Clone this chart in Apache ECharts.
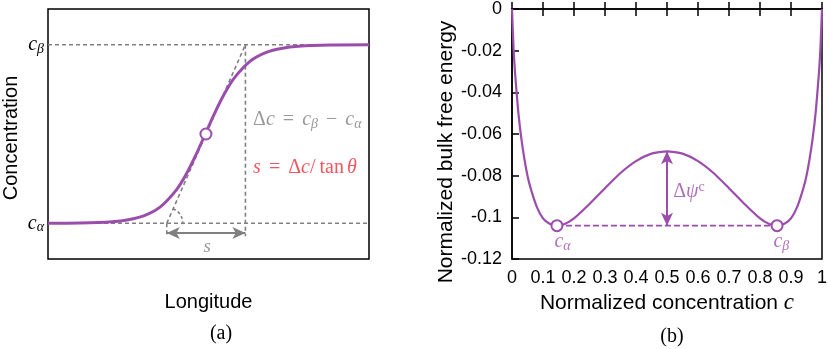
<!DOCTYPE html>
<html>
<head>
<meta charset="utf-8">
<script src="https://cdn.jsdelivr.net/npm/echarts@6/dist/echarts.min.js"></script>
<style>
html, body { margin: 0; padding: 0; background: #fff; }
#chart { width: 830px; height: 349px; }
</style>
</head>
<body>
<div id="chart"></div>
<script>
// (a) interface profile: longitude in arbitrary units, concentration scaled so c_alpha = 0, c_beta = 1
const longitudeA = [0, 1, 2, 2.5, 3, 3.5, 4, 4.3, 4.6, 4.9, 5.2, 5.5, 5.8, 6.3, 6.8, 7.3, 7.8, 8.8, 10]
const concA = [0.0003, 0.0017, 0.009, 0.02, 0.043, 0.092, 0.187, 0.273, 0.38, 0.5, 0.62, 0.727, 0.813, 0.908, 0.957, 0.98, 0.991, 0.998, 0.9995]
const tangentA = [[3.70, 0], [6.15, 1]]
const midA = [[4.92, 0.5]]
const arrowYA = -0.054
const barBottomA = -0.073
const yTickLabelsA = { '0': 'α', '1': 'β' }

// (b) bulk free energy vs normalized concentration
const concB = [0, 0.005, 0.01, 0.02, 0.03, 0.04, 0.05, 0.06, 0.08, 0.1, 0.12, 0.145, 0.17, 0.2, 0.25, 0.3, 0.35, 0.4, 0.45, 0.5,
  0.55, 0.6, 0.65, 0.7, 0.75, 0.8, 0.83, 0.855, 0.88, 0.9, 0.92, 0.94, 0.95, 0.96, 0.97, 0.98, 0.99, 0.995, 1]
const energyB = [0, -0.019, -0.031, -0.049, -0.062, -0.072, -0.080, -0.086, -0.095, -0.1005, -0.103, -0.104, -0.1032, -0.1005, -0.0936, -0.086, -0.0787, -0.073, -0.0694, -0.0683,
  -0.0694, -0.073, -0.0787, -0.086, -0.0936, -0.1005, -0.1032, -0.104, -0.103, -0.1005, -0.095, -0.086, -0.080, -0.072, -0.062, -0.049, -0.031, -0.019, 0]
const wellsB = [[0.145, -0.104], [0.855, -0.104]]
const barrierB = [[0.5, -0.0683], [0.5, -0.104]]

const purple = '#9b4dab'
const gray = '#808080'
const red = '#ee2c36'
const sans = 'Liberation Sans'
const serif = 'Liberation Serif'

const zip = (xs, ys) => xs.map((x, i) => [x, ys[i]])

const dashed = { color: gray, width: 1.6, type: [4, 3] }
function guide (pts) {
  return { type: 'line', xAxisIndex: 0, yAxisIndex: 0, data: pts, symbol: 'none', silent: true, lineStyle: dashed, z: 2 }
}
function textAt (grid, pt, text, rich, pos) {
  return {
    type: 'scatter', xAxisIndex: grid ? 1 : 0, yAxisIndex: grid ? 1 : 0,
    data: [pt], symbolSize: 0, silent: true, z: 6,
    label: { show: true, position: pos || 'inside', distance: 0, formatter: text, rich: rich }
  }
}
const mathRich = (color, size) => ({
  i: { fontFamily: serif, fontStyle: 'italic', fontSize: size, color: color, lineHeight: 24 },
  r: { fontFamily: serif, fontSize: size, color: color, lineHeight: 24 },
  o: { fontFamily: serif, fontSize: size, color: color, lineHeight: 24, padding: [0, 8, 0, 8] },
  t: { fontFamily: serif, fontSize: size, color: color, lineHeight: 24, padding: [0, 3, 0, 4] },
  s: { fontFamily: serif, fontStyle: 'italic', fontSize: size * 0.7, color: color, lineHeight: 24, padding: [9, 0, 0, 0] },
  u: { fontFamily: serif, fontSize: size * 0.7, color: color, lineHeight: 24, padding: [0, 0, 9, 0] }
})
const ring = { color: purple, borderColor: purple, borderWidth: 2.6, opacity: 1 }

const chart = echarts.init(document.getElementById('chart'))
chart.setOption({
  animation: false,
  grid: [
    { left: 47, top: 9, width: 322, height: 250, show: true, borderColor: '#000', borderWidth: 1.5 },
    { left: 512, top: 9, width: 313, height: 250, show: true, borderColor: '#000', borderWidth: 1.5 }
  ],
  title: [
    { text: '(a)', left: 216, top: 319, textAlign: 'center', textStyle: { fontFamily: serif, fontSize: 20, fontWeight: 'normal', color: '#000' } },
    { text: '(b)', left: 667, top: 322, textAlign: 'center', textStyle: { fontFamily: serif, fontSize: 20, fontWeight: 'normal', color: '#000' } }
  ],
  xAxis: [
    {
      gridIndex: 0, type: 'value', min: 0, max: 10,
      axisLine: { show: false }, axisTick: { show: false }, axisLabel: { show: false }, splitLine: { show: false },
      name: 'Longitude', nameLocation: 'middle', nameGap: 33,
      nameTextStyle: { fontFamily: sans, fontSize: 20, color: '#000' }
    },
    {
      gridIndex: 1, type: 'value', min: 0, max: 1, interval: 0.1,
      axisLine: { show: true, lineStyle: { color: '#000', width: 1.5 } },
      axisTick: { show: true, inside: true, length: 7, lineStyle: { color: '#000', width: 1.5 } },
      axisLabel: { margin: 10, fontFamily: sans, fontSize: 18, color: '#000' },
      splitLine: { show: false },
      name: '{n|Normalized concentration }{i|c}', nameLocation: 'middle', nameGap: 31,
      nameTextStyle: {
        rich: {
          n: { fontFamily: sans, fontSize: 21, color: '#000' },
          i: { fontFamily: serif, fontStyle: 'italic', fontSize: 23, color: '#000' }
        }
      }
    },
    {
      gridIndex: 1, type: 'value', min: 0, max: 1, interval: 0.1, position: 'top',
      axisLine: { show: false },
      axisTick: { show: true, inside: true, length: 7, lineStyle: { color: '#000', width: 1.5 } },
      axisLabel: { show: false }, splitLine: { show: false }
    }
  ],
  yAxis: [
    {
      gridIndex: 0, type: 'value', min: -0.2, max: 1.2, interval: 0.2,
      axisLine: { show: false }, axisTick: { show: false }, splitLine: { show: false },
      axisLabel: {
        margin: 4,
        formatter: v => {
          const k = String(Math.round(v * 1000) / 1000)
          return yTickLabelsA[k] ? '{i|c}{s|' + yTickLabelsA[k] + '}' : ''
        },
        rich: mathRich('#000', 20)
      },
      name: 'Concentration', nameLocation: 'middle', nameGap: 27,
      nameTextStyle: { fontFamily: sans, fontSize: 20, color: '#000', padding: [0, 8, 0, 0] }
    },
    {
      gridIndex: 1, type: 'value', min: -0.12, max: 0, interval: 0.02,
      axisLine: { show: true, lineStyle: { color: '#000', width: 1.5 } },
      axisTick: { show: true, inside: true, length: 7, lineStyle: { color: '#000', width: 1.5 } },
      axisLabel: { margin: 10, fontFamily: sans, fontSize: 18, color: '#000' },
      splitLine: { show: false },
      name: 'Normalized bulk free energy', nameLocation: 'middle', nameGap: 52,
      nameTextStyle: { fontFamily: sans, fontSize: 21, color: '#000', padding: [0, 36, 0, 0] }
    }
  ],
  series: [
    // (a) guides
    guide([[0, 0], [10, 0]]),
    guide([[0, 1], [10, 1]]),
    guide([[tangentA[1][0], 1], [tangentA[1][0], barBottomA]]),
    guide([[tangentA[0][0], 0], [tangentA[0][0], barBottomA]]),
    guide(tangentA),
    {
      type: 'custom', xAxisIndex: 0, yAxisIndex: 0, silent: true, z: 2,
      data: [tangentA[0]],
      renderItem: (params, api) => {
        const c = api.coord(tangentA[0])
        const t = api.coord(tangentA[1])
        const ang = Math.atan2(t[1] - c[1], t[0] - c[0])
        return {
          type: 'arc',
          shape: { cx: c[0], cy: c[1], r: 16, startAngle: ang, endAngle: 0 },
          style: { stroke: gray, fill: null, lineWidth: 1.6, lineDash: [3, 2.5] }
        }
      }
    },
    {
      type: 'line', xAxisIndex: 0, yAxisIndex: 0, data: [], silent: true, z: 3,
      markLine: {
        silent: true, animation: false,
        symbol: ['arrow', 'arrow'], symbolSize: [9, 13],
        label: { show: false },
        lineStyle: { color: gray, width: 2, type: 'solid' },
        data: [[{ coord: [tangentA[0][0], arrowYA] }, { coord: [tangentA[1][0], arrowYA] }]]
      }
    },
    {
      type: 'line', xAxisIndex: 0, yAxisIndex: 0, data: zip(longitudeA, concA),
      smooth: 0.3, symbol: 'none', silent: true, z: 4,
      lineStyle: { color: purple, width: 3 }
    },
    {
      type: 'scatter', xAxisIndex: 0, yAxisIndex: 0, data: midA, silent: true, z: 5,
      symbol: 'emptyCircle', symbolSize: 11, itemStyle: ring
    },
    textAt(0, [6.39, 0.582], '{r|Δ}{i|c}{o|=}{i|c}{s|β}{o|−}{i|c}{s|α}', mathRich(gray, 20), 'right'),
    textAt(0, [6.39, 0.313], '{i|s}{o|=}{r|Δ}{i|c}{r|/}{t|tan}{i|θ}', mathRich(red, 20), 'right'),
    textAt(0, [4.96, -0.133], '{i|s}', mathRich(gray, 19)),

    // (b)
    {
      type: 'line', xAxisIndex: 1, yAxisIndex: 1, data: zip(concB, energyB),
      smooth: 0.2, symbol: 'none', silent: true, z: 4,
      lineStyle: { color: purple, width: 2.2 }
    },
    {
      type: 'line', xAxisIndex: 1, yAxisIndex: 1, data: wellsB,
      symbol: 'none', silent: true, z: 3,
      lineStyle: { color: purple, width: 1.6, type: [6, 3] }
    },
    {
      type: 'line', xAxisIndex: 1, yAxisIndex: 1, data: [], silent: true, z: 3,
      markLine: {
        silent: true, animation: false,
        symbol: ['arrow', 'arrow'], symbolSize: [9, 13],
        label: { show: false },
        lineStyle: { color: purple, width: 2, type: 'solid' },
        data: [[{ coord: barrierB[0] }, { coord: barrierB[1] }]]
      }
    },
    {
      type: 'scatter', xAxisIndex: 1, yAxisIndex: 1, data: wellsB, silent: true, z: 5,
      symbol: 'emptyCircle', symbolSize: 11, itemStyle: ring
    },
    textAt(1, [0.163, -0.1117], '{i|c}{s|α}', mathRich(purple, 20)),
    textAt(1, [0.869, -0.1117], '{i|c}{s|β}', mathRich(purple, 20)),
    textAt(1, [0.52, -0.0877], '{r|Δ}{i|ψ}{u|c}', mathRich(purple, 20), 'right')
  ]
})
</script>
</body>
</html>
